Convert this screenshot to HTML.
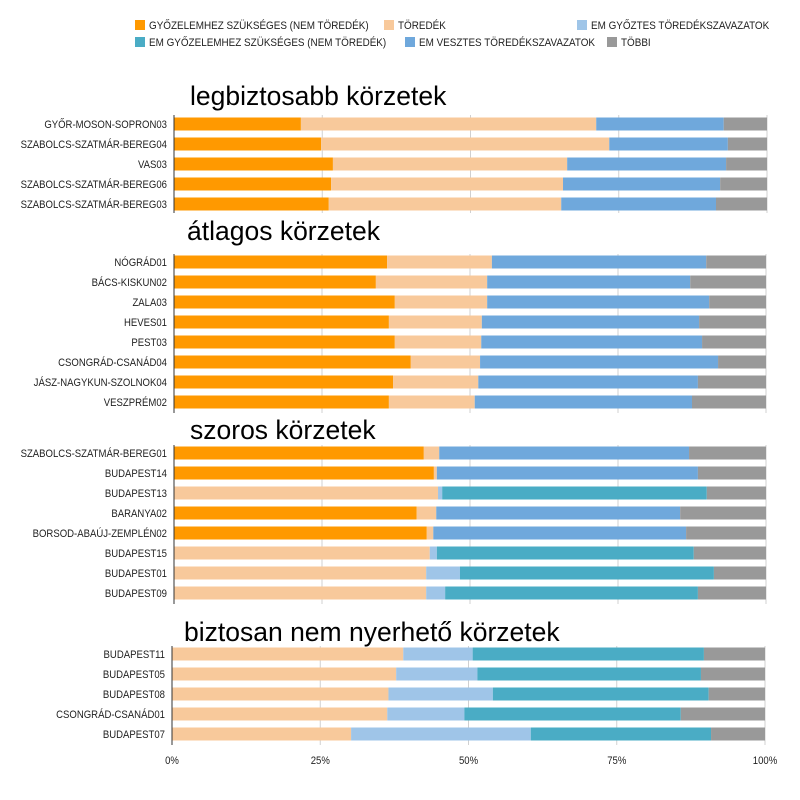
<!DOCTYPE html>
<html><head><meta charset="utf-8"><style>
body{margin:0;background:#fff;}
svg{display:block;font-family:"Liberation Sans",sans-serif;}
</style></head><body>
<svg id="chart" width="800" height="800" viewBox="0 0 800 800" xmlns="http://www.w3.org/2000/svg">
<g id="legend"></g>
<g id="panels"></g>
</svg>
<script>
const seriesNames = ["GYŐZELEMHEZ SZÜKSÉGES (NEM TÖREDÉK)","TÖREDÉK","EM GYŐZTES TÖREDÉKSZAVAZATOK","EM GYŐZELEMHEZ SZÜKSÉGES (NEM TÖREDÉK)","EM VESZTES TÖREDÉKSZAVAZATOK","TÖBBI"];
const seriesColors = ["#ff9900","#f8c99b","#9fc5e8","#4aacc5","#6fa8dc","#999999"];
const tickLabels = ["0%","25%","50%","75%","100%"];
const tickValues = [0,25,50,75,100];

const panelTitles = ["legbiztosabb körzetek","átlagos körzetek","szoros körzetek","biztosan nem nyerhető körzetek"];

const cats1 = ["GYŐR-MOSON-SOPRON03","SZABOLCS-SZATMÁR-BEREG04","VAS03","SZABOLCS-SZATMÁR-BEREG06","SZABOLCS-SZATMÁR-BEREG03"];
const p1s0 = [21.4,24.8,26.8,26.5,26.1];
const p1s1 = [49.8,48.6,39.5,39.1,39.2];
const p1s2 = [0,0,0,0,0];
const p1s3 = [0,0,0,0,0];
const p1s4 = [21.5,20.0,26.8,26.5,26.1];
const p1s5 = [7.3,6.6,6.9,7.9,8.6];

const cats2 = ["NÓGRÁD01","BÁCS-KISKUN02","ZALA03","HEVES01","PEST03","CSONGRÁD-CSANÁD04","JÁSZ-NAGYKUN-SZOLNOK04","VESZPRÉM02"];
const p2s0 = [36.0,34.1,37.3,36.3,37.3,40.0,37.0,36.3];
const p2s1 = [17.7,18.8,15.6,15.7,14.6,11.7,14.4,14.5];
const p2s2 = [0,0,0,0,0,0,0,0];
const p2s3 = [0,0,0,0,0,0,0,0];
const p2s4 = [36.2,34.3,37.5,36.7,37.3,40.2,37.1,36.7];
const p2s5 = [10.1,12.8,9.6,11.3,10.8,8.1,11.5,12.5];

const cats3 = ["SZABOLCS-SZATMÁR-BEREG01","BUDAPEST14","BUDAPEST13","BARANYA02","BORSOD-ABAÚJ-ZEMPLÉN02","BUDAPEST15","BUDAPEST01","BUDAPEST09"];
const p3s0 = [42.2,43.9,0,41.0,42.7,0,0,0];
const p3s1 = [2.6,0.5,44.6,3.3,1.1,43.2,42.6,42.6];
const p3s2 = [0,0,0.7,0,0,1.2,5.7,3.2];
const p3s3 = [0,0,44.7,0,0,43.4,42.9,42.7];
const p3s4 = [42.2,44.1,0,41.2,42.7,0,0,0];
const p3s5 = [13.0,11.5,10.0,14.5,13.5,12.2,8.8,11.5];

const cats4 = ["BUDAPEST11","BUDAPEST05","BUDAPEST08","CSONGRÁD-CSANÁD01","BUDAPEST07"];
const p4s0 = [0,0,0,0,0];
const p4s1 = [39.0,37.8,36.5,36.3,30.2];
const p4s2 = [11.7,13.7,17.6,13.0,30.3];
const p4s3 = [39.0,37.7,36.4,36.5,30.4];
const p4s4 = [0,0,0,0,0];
const p4s5 = [10.3,10.8,9.5,14.2,9.1];

const panels = [
 {cats:cats1, s:[p1s0,p1s1,p1s2,p1s3,p1s4,p1s5], x0:174, x1:767, y0:124, titleX:190, titleY:105, axTop:111, axBot:213},
 {cats:cats2, s:[p2s0,p2s1,p2s2,p2s3,p2s4,p2s5], x0:174, x1:766, y0:262, titleX:187, titleY:240, axTop:250, axBot:413},
 {cats:cats3, s:[p3s0,p3s1,p3s2,p3s3,p3s4,p3s5], x0:174, x1:766, y0:453, titleX:190, titleY:439, axTop:441, axBot:604},
 {cats:cats4, s:[p4s0,p4s1,p4s2,p4s3,p4s4,p4s5], x0:172, x1:765, y0:654, titleX:184, titleY:641, axTop:642, axBot:745, ticks:true}
];
const NS="http://www.w3.org/2000/svg";
function mk(tag,attrs,parent){const e=document.createElementNS(NS,tag);for(const k in attrs)e.setAttribute(k,attrs[k]);parent.appendChild(e);return e;}
function ctext(parent,x,y,sx,anchor,size,str){
  const t=mk('text',{x:0,y:0,'font-size':size,'text-anchor':anchor,fill:'#222',transform:'translate('+x+','+y+') scale('+sx+',1)'},parent);
  t.textContent=str;return t;
}

const legend=document.getElementById('legend');
const legPos=[[135,25],[384,25],[577,25],[135,42],[405,42],[607,42]];
[0,1,2,3,4,5].forEach((si,i)=>{
  const lx=legPos[i][0], ly=legPos[i][1];
  const g=mk('g',{},legend);
  
  
  mk('rect',{x:lx,y:ly-5,width:10,height:10,fill:seriesColors[si]},g);
  ctext(g,lx+14,ly+4,0.9,'start',11,seriesNames[si]);
});

const root=document.getElementById('panels');
panels.forEach((p,pi)=>{
  const g=mk('g',{},root);
  
  
  const xs=v=>p.x0+(p.x1-p.x0)*v/100;
  const title=mk('text',{x:p.titleX,y:p.titleY,'font-size':26.5,fill:'#000'},g);
  
  
  title.textContent=panelTitles[pi];
  tickValues.forEach(v=>{
    if(v===0)return;
    const l=mk('line',{x1:xs(v),x2:xs(v),y1:p.axTop+4,y2:p.axBot,stroke:'#d0d0d0','stroke-width':1},g);
    
    
  });
  p.cats.forEach((c,ci)=>{
    const yc=p.y0+ci*20;
    const lab=ctext(g,p.x0-7,yc+4,0.87,'end',11,c);
    
    
    let acc=0;
    p.s.forEach((arr,si)=>{
      const v=arr[ci];
      if(v>0){
        const r=mk('rect',{x:xs(acc),y:yc-6.5,width:xs(acc+v)-xs(acc),height:13,fill:seriesColors[si]},g);
        
        
      }
      acc+=v;
    });
  });
  const ax=mk('line',{x1:p.x0,x2:p.x0,y1:p.axTop+4,y2:p.axBot,stroke:'#333','stroke-width':1},g);
  
  
  if(p.ticks){
    tickValues.forEach((v,ti)=>{
      const t=ctext(g,xs(v),764,0.87,'middle',11,tickLabels[ti]);
      
      
    });
  }
});
</script>
</body></html>
